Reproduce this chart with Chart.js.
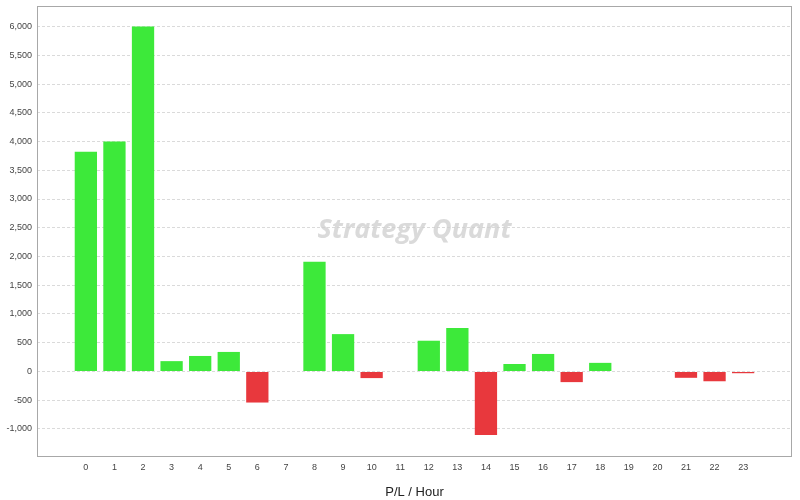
<!DOCTYPE html>
<html>
<head>
<meta charset="utf-8">
<script src="https://cdn.jsdelivr.net/npm/chart.js@4.4.0/dist/chart.umd.min.js"></script>
<style>
  html, body { margin: 0; padding: 0; background: #fff; }
  #wrap { width: 800px; height: 500px; }
</style>
</head>
<body>
<div id="wrap"><canvas id="chart"></canvas></div>
<script>
const hours = [0, 1, 2, 3, 4, 5, 6, 7, 8, 9, 10, 11, 12, 13, 14, 15, 16, 17, 18, 19, 20, 21, 22, 23];
const pl = [3820, 4000, 6000, 180, 270, 340, -540, 0, 1910, 650, -115, 0, 535, 755, -1105, 130, 305, -185, 150, 0, 0, -110, -170, -30];
const yTicks = [-1000, -500, 0, 500, 1000, 1500, 2000, 2500, 3000, 3500, 4000, 4500, 5000, 5500, 6000];

const GREEN = "#3de93a";
const RED = "#e8383d";

// box round the plot + watermark text
const frame = {
  id: "frame",
  beforeDatasetsDraw(chart) {
    const { ctx, chartArea: a } = chart;
    ctx.save();
    ctx.font = "italic bold 27px 'Open Sans', 'DejaVu Sans', sans-serif";
    ctx.fillStyle = "rgba(205,205,205,0.75)";
    ctx.textBaseline = "middle";
    ctx.textAlign = "center";
    ctx.fillText("Strategy Quant", (a.left + a.right) / 2, 230);
    ctx.restore();
  },
  afterDraw(chart) {
    const { ctx, chartArea: a } = chart;
    ctx.save();
    ctx.strokeStyle = "#a8a8a8";
    ctx.lineWidth = 1;
    ctx.strokeRect(a.left + 0.5, a.top + 0.5, a.right - a.left - 1, a.bottom - a.top);
    ctx.restore();
  }
};

new Chart(document.getElementById("chart"), {
  type: "bar",
  data: {
    datasets: [{
      label: "P/L",
      data: hours.map((h, i) => ({ x: h, y: pl[i] })),
      backgroundColor: pl.map((v) => (v >= 0 ? GREEN : RED)),
      borderWidth: 0,
      barPercentage: 0.78,
      categoryPercentage: 1
    }]
  },
  options: {
    responsive: true,
    maintainAspectRatio: false,
    animation: false,
    layout: { padding: { top: 6, right: 8, left: 0, bottom: 0 } },
    plugins: { legend: { display: false }, tooltip: { enabled: false } },
    scales: {
      x: {
        type: "linear",
        offset: false,
        min: -1.71,
        max: 24.71,
        afterBuildTicks: (axis) => { axis.ticks = hours.map((v) => ({ value: v })); },
        afterFit: (axis) => { axis.height = 44; axis.paddingLeft = 0; axis.paddingRight = 0; },
        grid: { display: false, drawTicks: false, offset: false },
        border: { display: false },
        ticks: { color: "#444", font: { family: "Liberation Sans, Arial, sans-serif", size: 9 }, padding: 6, maxRotation: 0, autoSkip: false },
        title: { display: true, text: "P/L / Hour", color: "#222", font: { family: "Liberation Sans, Arial, sans-serif", size: 13 }, padding: { top: 8, bottom: 0 } }
      },
      y: {
        min: -1470,
        max: 6357,
        afterBuildTicks: (axis) => { axis.ticks = yTicks.map((v) => ({ value: v })); },
        afterFit: (axis) => { axis.width = 37; axis.paddingTop = 0; axis.paddingBottom = 0; },
        grid: { color: "#dadada", drawTicks: false, lineWidth: 1 },
        border: { display: false, dash: [3, 2] },
        ticks: {
          color: "#444",
          font: { family: "Liberation Sans, Arial, sans-serif", size: 9 },
          padding: 5,
          callback: (v) => v.toLocaleString("en-US")
        }
      }
    }
  },
  plugins: [frame]
});
</script>
</body>
</html>
